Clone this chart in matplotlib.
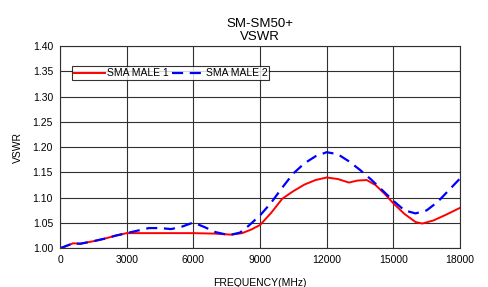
import matplotlib
matplotlib.use("Agg")
import matplotlib.pyplot as plt

plt.rcParams["font.family"] = ["Liberation Sans", "DejaVu Sans"]

# frequency (MHz) / VSWR
freq1 = [0, 300, 600, 900, 1500, 2000, 2500, 3000, 3500, 6000, 7000, 7700, 8200, 8600,
         9000, 9500, 10000, 10500, 11000, 11500, 12000, 12500, 13000, 13400, 13800,
         14200, 14600, 15000, 15500, 16000, 16300, 16800, 17400, 18000]
male1 = [1.000, 1.005, 1.010, 1.009, 1.014, 1.019, 1.025, 1.030, 1.030, 1.030, 1.029,
         1.027, 1.030, 1.037, 1.046, 1.070, 1.098, 1.113, 1.126, 1.135, 1.140, 1.137,
         1.130, 1.134, 1.135, 1.125, 1.108, 1.089, 1.068, 1.052, 1.049, 1.055, 1.067, 1.080]

freq2 = [0, 300, 600, 900, 1500, 2000, 2500, 3000, 3500, 4000, 4500, 5000, 5500, 6000,
         6500, 7000, 7600, 8100, 8500, 9000, 9500, 10000, 10500, 11000, 11500, 12000,
         12500, 13000, 13500, 14000, 14500, 15000, 15500, 16000, 16500, 17000, 17500, 18000]
male2 = [1.000, 1.005, 1.010, 1.009, 1.014, 1.019, 1.025, 1.030, 1.035, 1.040, 1.040,
         1.038, 1.043, 1.051, 1.042, 1.032, 1.026, 1.031, 1.045, 1.065, 1.090, 1.120,
         1.148, 1.168, 1.182, 1.190, 1.186, 1.172, 1.155, 1.136, 1.115, 1.094, 1.075,
         1.069, 1.075, 1.092, 1.115, 1.138]

xticks = [0, 3000, 6000, 9000, 12000, 15000, 18000]
yticks = [1.00, 1.05, 1.10, 1.15, 1.20, 1.25, 1.30, 1.35, 1.40]

fig = plt.figure(figsize=(4.89, 2.87), dpi=100)
ax = fig.add_axes([0.1227, 0.1348, 0.818, 0.705])

ax.plot(freq1, male1, color="red", lw=1.4, label="SMA MALE 1")
ax.plot(freq2, male2, color="blue", lw=1.6, ls=(0, (5, 3)), label="SMA MALE 2")

ax.set_xlim(0, 18000)
ax.set_ylim(1.0, 1.4)
ax.set_xticks(xticks)
ax.set_yticks(yticks)
ax.set_yticklabels(["%.2f" % v for v in yticks])
ax.tick_params(labelsize=7.5, length=0, pad=5)
ax.grid(True, color="#303030", lw=0.8)
ax.set_axisbelow(True)
for s in ax.spines.values():
    s.set_color("#303030")
    s.set_linewidth(0.8)

ax.set_xlabel("FREQUENCY(MHz)", fontsize=7.5, labelpad=9)
ax.set_ylabel("VSWR", fontsize=7.5, labelpad=7)
ax.set_title("SM-SM50+\nVSWR", fontsize=9.5, linespacing=1.15, pad=4)

leg = ax.legend(loc="upper left", bbox_to_anchor=(0.03, 0.9), ncol=2, fontsize=7.5,
                frameon=True, fancybox=False, handlelength=3.0, handletextpad=0.2,
                columnspacing=0.3, borderpad=0.2, borderaxespad=0)
leg.get_frame().set_edgecolor("black")
leg.get_frame().set_linewidth(0.8)

plt.savefig("out.png", dpi=100)
